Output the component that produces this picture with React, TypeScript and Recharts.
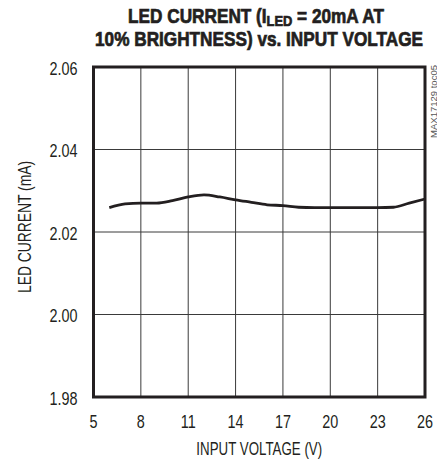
import React from 'react';
import {
  LineChart,
  Line,
  XAxis,
  YAxis,
  CartesianGrid,
  ReferenceArea,
  Label,
} from 'recharts';

const voltages = [6, 7, 8, 9, 10, 11, 12, 13, 14, 15, 16, 17, 18, 19, 20, 21, 22, 23, 24, 25, 26];
const currents = [
  2.0259, 2.0268, 2.027, 2.027, 2.0276, 2.0285, 2.029, 2.0285, 2.0278, 2.0272, 2.0266,
  2.0264, 2.026, 2.0259, 2.0259, 2.0259, 2.0259, 2.0259, 2.026, 2.027, 2.028,
];
const xTicks = [5, 8, 11, 14, 17, 20, 23, 26];
const yTicks = [1.98, 2.0, 2.02, 2.04, 2.06];

const data = voltages.map((v, i) => ({ v, i: currents[i] }));

// Helvetica Condensed isn't available, so squeeze Liberation Sans horizontally
const FONT = "'Liberation Sans', Arial, sans-serif";
const INK = '#231f20';

function XTick({ x, y, payload }: any) {
  return (
    <text transform={`translate(${x},${y + 31}) scale(0.8,1)`} textAnchor="middle" fill={INK} fontSize={18} fontFamily={FONT}>
      {payload.value}
    </text>
  );
}

function YTick({ x, y, payload }: any) {
  return (
    <text transform={`translate(${x - 16},${y + 7.5}) scale(0.8,1)`} textAnchor="end" fill={INK} fontSize={18} fontFamily={FONT}>
      {Number(payload.value).toFixed(2)}
    </text>
  );
}

function XLabel({ viewBox }: any) {
  const cx = viewBox.x + viewBox.width / 2;
  return (
    <text transform={`translate(${cx},${viewBox.y + 58}) scale(0.74,1)`} textAnchor="middle" fill={INK} fontSize={18} fontFamily={FONT}>
      INPUT VOLTAGE (V)
    </text>
  );
}

function YLabel({ viewBox }: any) {
  const cy = viewBox.y + viewBox.height / 2 - 5;
  return (
    <text transform={`translate(31,${cy}) rotate(-90) scale(0.77,1)`} textAnchor="middle" fill={INK} fontSize={18} fontFamily={FONT}>
      LED CURRENT (mA)
    </text>
  );
}

export default function App() {
  return (
    <div style={{ position: 'absolute', left: 0, top: 0, width: 437, height: 462, background: '#fff' }}>
      <LineChart width={437} height={462} data={data} margin={{ top: 67, right: 12, left: 0, bottom: 0 }}>
        <CartesianGrid stroke="#3a3a3a" strokeWidth={1} />
        <XAxis
          dataKey="v"
          type="number"
          domain={[5, 26]}
          ticks={xTicks}
          height={65}
          tickLine={false}
          axisLine={false}
          tickSize={0}
          tickMargin={0}
          tick={<XTick />}
        >
          <Label content={<XLabel />} />
        </XAxis>
        <YAxis
          type="number"
          domain={[1.98, 2.06]}
          ticks={yTicks}
          width={93.5}
          tickLine={false}
          axisLine={false}
          tickSize={0}
          tickMargin={0}
          tick={<YTick />}
        >
          <Label content={<YLabel />} />
        </YAxis>
        <ReferenceArea x1={5} x2={26} y1={1.98} y2={2.06} fill="none" stroke={INK} strokeWidth={3} ifOverflow="visible" />
        <Line
          dataKey="i"
          type="monotone"
          stroke={INK}
          strokeWidth={2.8}
          dot={false}
          isAnimationActive={false}
        />
      </LineChart>
      <svg width={437} height={462} style={{ position: 'absolute', left: 0, top: 0, pointerEvents: 'none' }}>
        <text
          transform="translate(256,23) scale(0.86,1)"
          textAnchor="middle"
          fontWeight="bold"
          fontSize={20}
          fill={INK}
          stroke={INK}
          strokeWidth={0.7}
          fontFamily={FONT}
        >
          LED CURRENT (I<tspan fontSize={15} dy={3}>LED</tspan>
          <tspan dy={-3}> = 20mA AT</tspan>
        </text>
        <text
          transform="translate(259,46) scale(0.86,1)"
          textAnchor="middle"
          fontWeight="bold"
          fontSize={20}
          fill={INK}
          stroke={INK}
          strokeWidth={0.7}
          fontFamily={FONT}
        >
          10% BRIGHTNESS) vs. INPUT VOLTAGE
        </text>
        <text
          transform="translate(436.5,101.5) rotate(-90)"
          textAnchor="middle"
          fontSize={9.5}
          fill="#555"
          fontFamily={FONT}
        >
          MAX17129 toc05
        </text>
      </svg>
    </div>
  );
}
